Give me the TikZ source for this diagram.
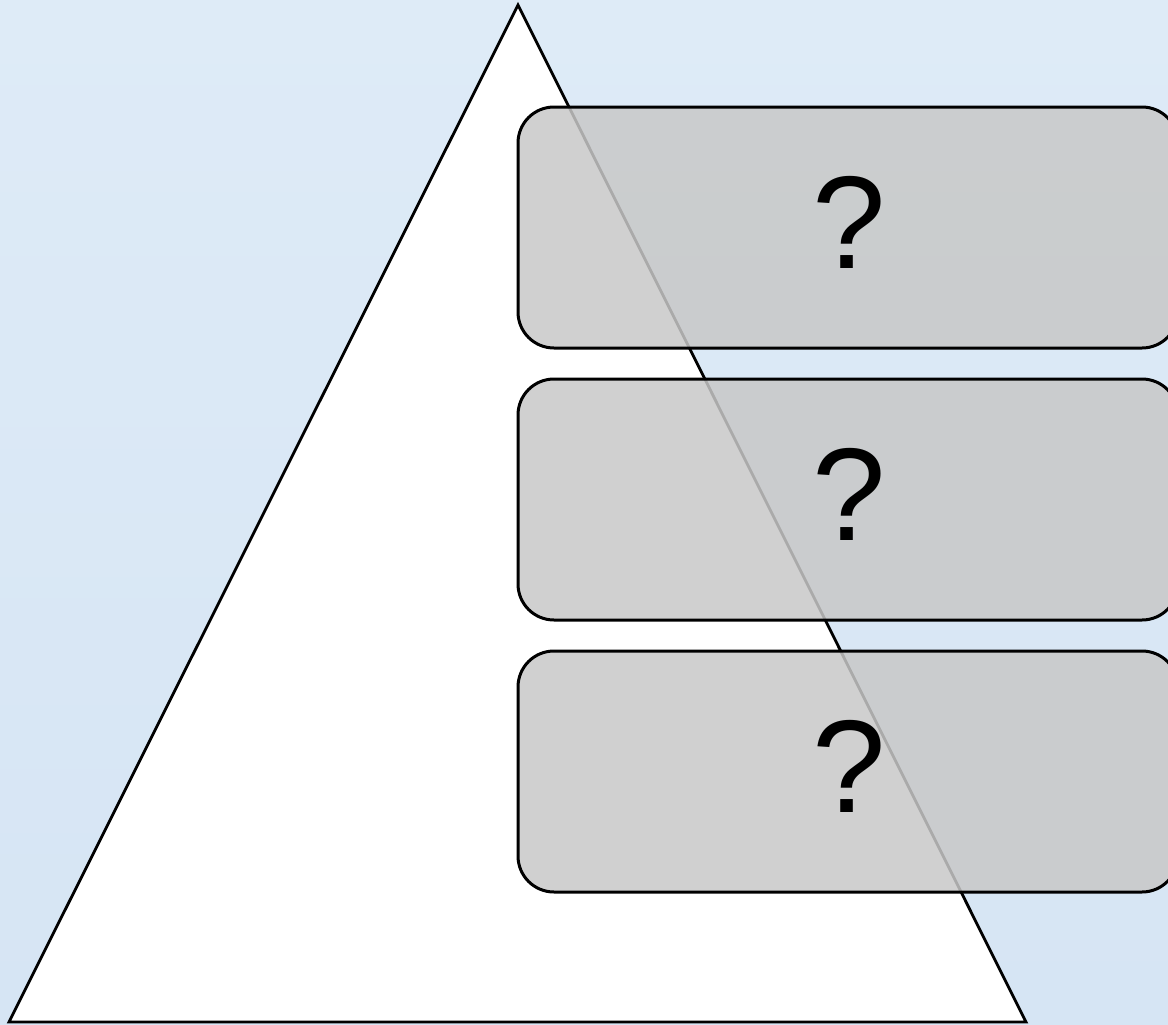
\documentclass[tikz,border=0pt]{standalone}
\usepackage{fontspec}
\setmainfont{Liberation Sans}
\definecolor{bgblue}{RGB}{214,229,244}
\definecolor{bgblue2}{RGB}{222,235,247}
\definecolor{boxgray}{RGB}{200,200,200}
\tikzset{
  qbox/.style={draw=black, line width=3pt, fill=boxgray, fill opacity=0.85,
    rounded corners=36pt, minimum width=660pt, minimum height=241pt, inner sep=0pt},
  qmark/.style={anchor=base, inner sep=0pt, font=\fontsize{132}{132}\selectfont}
}
\begin{document}
\begin{tikzpicture}[x=1pt,y=-1pt]
\useasboundingbox (0,0) rectangle (1168,1025);
\shade[top color=bgblue2, bottom color=bgblue] (0,0) rectangle (1168,1025);
\draw[line width=2.8pt, fill=white, line join=miter] (518,5) -- (1026,1022) -- (9,1022) -- cycle;
\node[qbox] (b1) at (848,227.5) {};
\node[qbox] (b2) at (848,499.5) {};
\node[qbox] (b3) at (848,771.5) {};
\node[qmark] (q1) at (849,268) {?};
\node[qmark] (q2) at (849,540) {?};
\node[qmark] (q3) at (849,812) {?};
\end{tikzpicture}
\end{document}
